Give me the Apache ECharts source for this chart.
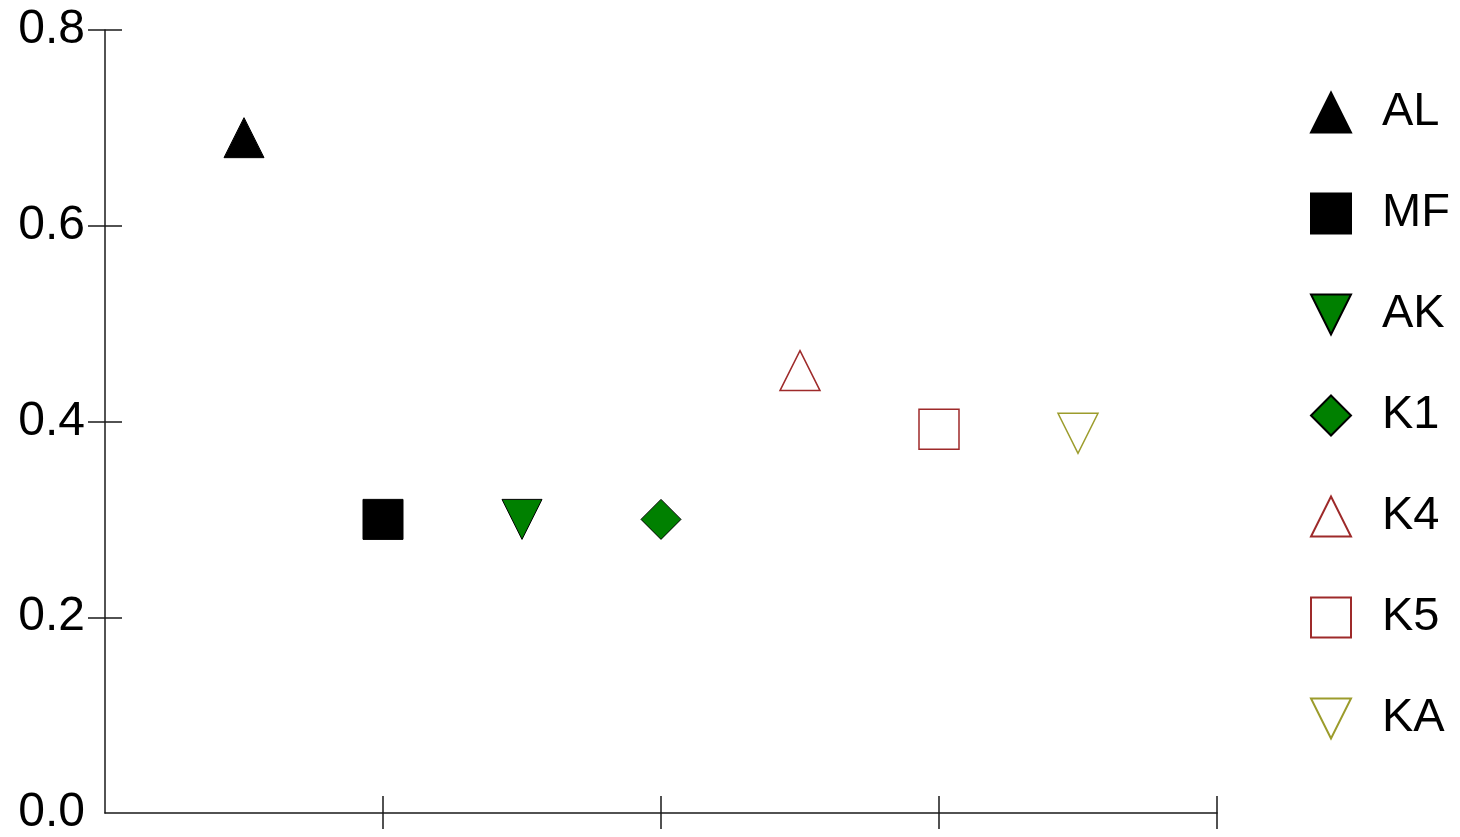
<!DOCTYPE html>
<html>
<head>
<meta charset="utf-8">
<script src="https://cdn.jsdelivr.net/npm/echarts@6/dist/echarts.min.js"></script>
<style>
  html, body { margin: 0; padding: 0; background: #fff; overflow: hidden; }
  #chart { width: 1460px; height: 837px; }
</style>
</head>
<body>
<div id="chart"></div>
<script>
// Sample groups, their positions along the x axis and measured values
const groups = ['AL', 'MF', 'AK', 'K1', 'K4', 'K5', 'KA'];
const xPositions = [0.5, 1, 1.5, 2, 2.5, 3, 3.5];
const values = [0.69, 0.30, 0.30, 0.30, 0.452, 0.392, 0.388];

// Tick values on each axis
const yTicks = [0.2, 0.4, 0.6, 0.8];
const yLabels = [0, 0.2, 0.4, 0.6, 0.8];
const xTicks = [1, 2, 3, 4];

// Downward-pointing triangle, so the legend shows the same shape as the plot
const DOWN_TRIANGLE = 'path://M0,0 L20,0 L10,20 Z';

// Marker look for each group
const markerStyles = [
  { symbol: 'triangle',    fill: '#000000', stroke: '#000000', width: 1 },
  { symbol: 'rect',        fill: '#000000', stroke: '#000000', width: 1 },
  { symbol: DOWN_TRIANGLE, fill: '#008000', stroke: '#000000', width: 1 },
  { symbol: 'diamond',     fill: '#008000', stroke: '#000000', width: 1 },
  { symbol: 'triangle',    fill: '#ffffff', stroke: '#9e2a2a', width: 1.5 },
  { symbol: 'rect',        fill: '#ffffff', stroke: '#9e2a2a', width: 1.5 },
  { symbol: DOWN_TRIANGLE, fill: '#ffffff', stroke: '#9c9c2c', width: 1.5 }
];

const FONT = '"Liberation Sans", Arial, sans-serif';
const AXIS_COLOR = '#1a1a1a';

const series = groups.map((name, i) => {
  const m = markerStyles[i];
  return {
    name: name,
    type: 'scatter',
    xAxisIndex: 0,
    yAxisIndex: 0,
    symbol: m.symbol,
    symbolSize: 40,
    itemStyle: { color: m.fill, borderColor: m.stroke, borderWidth: m.width, opacity: 1 },
    emphasis: { disabled: true },
    data: [[xPositions[i], values[i]]]
  };
});

const chart = echarts.init(document.getElementById('chart'), null, { renderer: 'canvas' });

chart.setOption({
  animation: false,
  backgroundColor: '#ffffff',
  grid: { left: 105, right: 243, top: 30, bottom: 20, containLabel: false },
  legend: {
    orient: 'vertical',
    left: 1310,
    top: 89,
    padding: 0,
    itemWidth: 40,
    itemHeight: 40,
    itemGap: 54,
    selectedMode: false,
    data: groups,
    textStyle: {
      fontFamily: FONT,
      fontSize: 47,
      color: '#000',
      padding: [0, 0, 0, 26]
    }
  },
  xAxis: [
    {
      type: 'value',
      min: 0, max: 4, interval: 1,
      position: 'bottom',
      axisLine: { show: true, onZero: false, lineStyle: { color: AXIS_COLOR, width: 1.5 } },
      axisTick: { show: true, inside: false, length: 16, customValues: xTicks,
                  lineStyle: { color: AXIS_COLOR, width: 1.5 } },
      axisLabel: { show: false },
      splitLine: { show: false }
    },
    {
      type: 'value',
      min: 0, max: 4, interval: 1,
      position: 'bottom',
      axisLine: { show: false, onZero: false },
      axisTick: { show: true, inside: true, length: 17, customValues: xTicks,
                  lineStyle: { color: AXIS_COLOR, width: 1.5 } },
      axisLabel: { show: false },
      splitLine: { show: false }
    }
  ],
  yAxis: [
    {
      type: 'value',
      min: 0, max: 0.8, interval: 0.2,
      position: 'left',
      axisLine: { show: true, onZero: false, lineStyle: { color: AXIS_COLOR, width: 1.5 } },
      axisTick: { show: true, inside: false, length: 17, customValues: yTicks,
                  lineStyle: { color: AXIS_COLOR, width: 1.5 } },
      axisLabel: {
        show: true,
        customValues: yLabels,
        margin: 20,
        fontFamily: FONT,
        fontSize: 48,
        color: '#000',
        formatter: v => v.toFixed(1)
      },
      splitLine: { show: false }
    },
    {
      type: 'value',
      min: 0, max: 0.8, interval: 0.2,
      position: 'left',
      axisLine: { show: false, onZero: false },
      axisTick: { show: true, inside: true, length: 17, customValues: yTicks,
                  lineStyle: { color: AXIS_COLOR, width: 1.5 } },
      axisLabel: { show: false },
      splitLine: { show: false }
    }
  ],
  series: series
});
</script>
</body>
</html>
